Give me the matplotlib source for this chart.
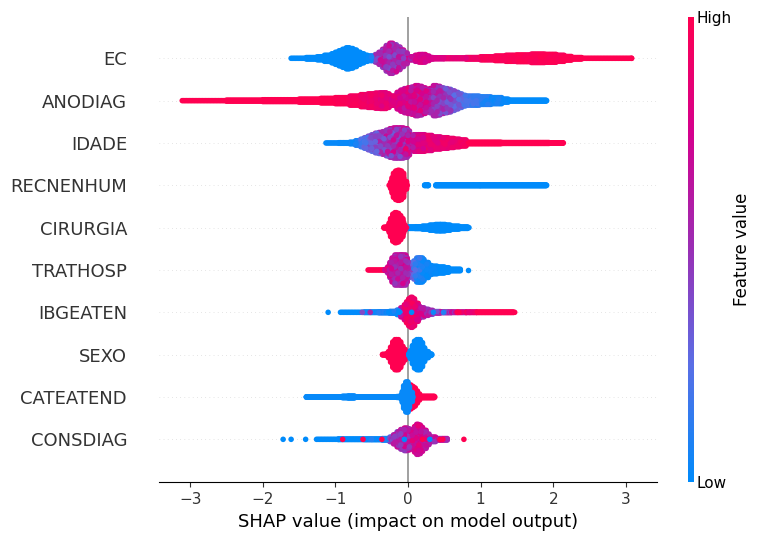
import numpy as np
import matplotlib
matplotlib.use("Agg")
import matplotlib.pyplot as plt
from matplotlib.colors import LinearSegmentedColormap

FEATURES = ["EC", "ANODIAG", "IDADE", "RECNENHUM", "CIRURGIA",
            "TRATHOSP", "IBGEATEN", "SEXO", "CATEATEND", "CONSDIAG"]

# Each swarm is a table of bins: left edge of the bin, dots stacked per side,
# mean feature value, and how far the feature value varies inside the bin.
EC_x = [-1.61, -1.4, -1.25, -1.15, -1.05, -1.0, -.95, -.9, -.85, -.8, -.75, -.7, -.65, -.6, -.55, -.5,
        -.45, -.4, -.35, -.3, -.25, -.2, -.15, -.1, -.05, 0, .05, .1, .15, .2, .25, .3, .35, .5, .8,
        1.0, 1.2, 1.35, 1.5, 1.7, 1.9, 2.05, 2.15, 2.25, 2.4, 3.08]
EC_n = [0, .5, 1, 2, 3, 4, 5, 6, 7, 6.5, 5.5, 4, 3, 2, 1.5, 1.5,
        2.5, 4, 6, 8.5, 10, 9, 7.5, 5.5, 3.5, 1, 1, 2, 2.5, 2.5, 1.5, .5, .3, .2, .5,
        1, 1.5, 2, 2.2, 2.8, 2.6, 2, 1.2, .5, 0, 0]
EC_v = [0, 0, 0, 0, 0, 0, 0, 0, 0, 0, 0, 0, 0, 0, .02, .1,
        .5, .55, .55, .55, .55, .55, .55, .6, .6, .55, .65, .75, .78, .78, .78, .75, .78, .85, .92,
        .95, .97, .98, .98, .98, .98, .98, 1, 1, 1, 1]
EC_s = [0, 0, 0, 0, 0, 0, 0, 0, 0, 0, 0, 0, 0, 0, 0, .05,
        .2, .25, .25, .25, .25, .25, .25, .25, .25, .2, .1, .08, .08, .08, .05, .05, .05, .05, .05,
        .05, .03, .03, .03, .03, .03, .03, 0, 0, 0, 0]

ANODIAG_x = [-3.11, -2.5, -2.0, -1.5, -1.2, -1.0, -.8, -.65, -.55, -.45, -.38, -.3, -.25, -.2, -.15, -.1, -.05, 0,
             .05, .1, .15, .2, .25, .3, .35, .4, .45, .5, .55, .6, .65, .7, .75, .8, .9, 1.0, 1.15, 1.3, 1.4, 1.91]
ANODIAG_n = [0, .3, .6, 1, 1.5, 2, 3, 4, 4.5, 5, 5.2, 4.5, 3, 3, 5.5, 7, 8, 8.5,
             9, 10, 9.5, 8.5, 6.5, 8, 10, 9.5, 8.5, 8, 7.5, 6.5, 5.5, 4.5, 3.5, 3, 3, 2.5, 2, 1, .3, 0]
ANODIAG_v = [1, 1, 1, 1, 1, .98, .95, .92, .9, .88, .85, .85, .82, .8, .78, .76, .75, .74,
             .72, .72, .7, .7, .68, .62, .55, .5, .48, .45, .4, .36, .32, .28, .25, .2, .15, .1, .05, .02, 0, 0]
ANODIAG_s = [0, 0, 0, 0, 0, .02, .03, .05, .05, .05, .08, .08, .08, .1, .12, .15, .18, .2,
             .2, .22, .22, .2, .2, .2, .2, .2, .2, .2, .2, .18, .15, .15, .12, .1, .08, .08, .05, .02, 0, 0]

IDADE_x = [-1.13, -.95, -.8, -.72, -.65, -.6, -.55, -.5, -.45, -.4, -.35, -.3, -.25, -.2, -.15, -.1, -.05, 0,
           .03, .08, .15, .25, .35, .45, .55, .65, .72, .8, 1.3, 1.95, 2.14]
IDADE_n = [0, .2, .5, 1.5, 2.5, 3.5, 4.5, 5.5, 6.5, 7, 7.5, 8.5, 9.5, 10, 10, 10, 9.5, 8,
           5, 5.5, 5.5, 5, 4, 3.5, 3, 2.5, 2, .5, .3, .1, 0]
IDADE_v = [.02, .02, .03, .1, .2, .27, .32, .36, .4, .44, .47, .5, .52, .55, .58, .6, .65, .65,
           .72, .76, .8, .84, .85, .87, .88, .9, .92, 1, 1, 1, 1]
IDADE_s = [0, 0, .03, .08, .1, .12, .15, .18, .2, .22, .25, .28, .3, .3, .3, .32, .35, .35,
           .2, .12, .1, .1, .1, .08, .08, .06, .05, 0, 0, 0, 0]

RECNENHUM_hi_x = [-.26, -.24, -.22, -.2, -.17, -.14, -.11, -.08, -.06, -.04, -.01]
RECNENHUM_hi_n = [0, 2, 5, 8, 9.5, 10, 9.5, 8, 5, 2.5, 0]
RECNENHUM_hi_v = [1] * 11
RECNENHUM_hi_s = [0] * 11
RECNENHUM_lo_x = [.23, .28]
RECNENHUM_lo_n = [.2, .2]
RECNENHUM_lo_v = [0, 0]
RECNENHUM_lo_s = [0, 0]
RECNENHUM_tail_x = [.385, 1.0, 1.91]
RECNENHUM_tail_n = [.3, .3, 0]
RECNENHUM_tail_v = [0, 0, 0]
RECNENHUM_tail_s = [0, 0, 0]

CIRURGIA_lo_x = [0, .1, .2, .3, .38, .45, .52, .6, .72, .84]
CIRURGIA_lo_n = [.5, .6, 1, 1.7, 2.1, 2.1, 1.7, 1, .5, 0]
CIRURGIA_lo_v = [0] * 10
CIRURGIA_lo_s = [0] * 10
CIRURGIA_hi_x = [-.33, -.28, -.26, -.24, -.21, -.18, -.15, -.12, -.09, -.06, -.04, -.02]
CIRURGIA_hi_n = [.3, 1, 3, 6, 9, 10, 9.5, 8, 6, 3.5, 1.5, 0]
CIRURGIA_hi_v = [1] * 12
CIRURGIA_hi_s = [0] * 12

TRATHOSP_x = [-.55, -.32, -.28, -.25, -.22, -.18, -.14, -.1, -.07, -.03, 0, .04, .08, .12, .16, .2, .24, .28, .34, .42, .5, .58, .72]
TRATHOSP_n = [0, .3, 2, 5, 8, 10, 10, 10, 10, 8, 5, 4, 6, 8, 8, 7, 5, 3, 2.5, 2, 1.5, .5, 0]
TRATHOSP_v = [1, .8, .72, .65, .62, .6, .6, .62, .62, .6, .5, .35, .2, .1, .05, .04, .03, .02, .02, 0, 0, 0, 0]
TRATHOSP_s = [0, .15, .2, .2, .2, .2, .2, .22, .22, .2, .2, .2, .15, .1, .08, .05, .05, .02, .02, 0, 0, 0, 0]
TRATHOSP_spot_x = [.82]
TRATHOSP_spot_v = [0]

IBGEATEN_x = [-.93, -.6, -.4, -.25, -.15, -.1, -.05, -.02, .01, .04, .07, .1, .14, .18, .24, .3, .36, .45, .6, .8, .95, 1.47]
IBGEATEN_n = [0, .1, .3, .6, 1.5, 3, 5, 7, 9, 10, 9, 6, 4, 3, 2, 1.3, .5, .2, .1, .1, .1, 0]
IBGEATEN_v = [0, .03, .05, .05, .1, .75, .85, .9, .92, .92, .9, .85, .75, .65, .55, .5, .5, .55, .7, .85, 1, 1]
IBGEATEN_s = [0, .05, .1, .1, .15, .15, .12, .1, .08, .08, .1, .15, .2, .2, .2, .2, .25, .3, .3, .15, 0, 0]
IBGEATEN_spot_x = [-1.1, -.52, -.63, -.4, -.27, -.12, .05, .35, .49, .68, .7, .85]
IBGEATEN_spot_v = [0, .55, .4, .1, 0, 0, 0, .05, .1, 1, 1, .85]

SEXO_hi_x = [-.35, -.3, -.27, -.24, -.21, -.18, -.15, -.12, -.09, -.06, -.03, -.01]
SEXO_hi_n = [.2, .5, 2, 5, 8.5, 10, 10, 8.5, 5.5, 3.5, 2, 0]
SEXO_hi_v = [1] * 12
SEXO_hi_s = [0] * 12
SEXO_lo_x = [.01, .03, .06, .09, .12, .15, .18, .21, .24, .28, .33]
SEXO_lo_n = [.5, 2.5, 6, 9, 10, 10, 8, 4.5, 2, .5, 0]
SEXO_lo_v = [0] * 11
SEXO_lo_s = [0] * 11

CATEATEND_hi_x = [.02, .05, .08, .11, .14, .18, .37]
CATEATEND_hi_n = [8, 7, 6, 4, 2, .5, 0]
CATEATEND_hi_v = [1] * 7
CATEATEND_hi_s = [0] * 7
CATEATEND_lo_x = [-1.40, -.9, -.82, -.72, -.4, -.15, -.1, -.08, -.06, -.03, 0, .02, .04, .07]
CATEATEND_lo_n = [.1, .5, .7, .1, .1, .3, 1, 3.5, 7.5, 10, 10, 7, 3, 0]
CATEATEND_lo_v = [.02] * 14
CATEATEND_lo_s = [0] * 14

CONSDIAG_x = [-1.26, -.96, -.6, -.35, -.25, -.2, -.15, -.1, -.05, 0, .03, .06, .09, .12, .15, .18, .21, .25, .3, .38, .54]
CONSDIAG_n = [0, .1, .2, .5, 1.5, 3, 5, 6.5, 7.5, 7, 5.5, 6.5, 8.5, 10, 9.5, 8, 6, 3.5, 1.5, .5, 0]
CONSDIAG_v = [0, 0, .03, .1, .4, .5, .55, .58, .6, .6, .65, .72, .75, .75, .75, .72, .7, .65, .6, .6, .7]
CONSDIAG_s = [0, 0, .05, .1, .2, .25, .25, .25, .25, .25, .2, .2, .18, .15, .15, .15, .2, .25, .3, .3, .3]
CONSDIAG_spot_x = [-1.72, -1.61, -1.41, -.9, -.62, -.5, -.36, -.05, .2, .3, .44, .48, .77]
CONSDIAG_spot_v = [0, 0, 0, 1, 1, .1, 1, 0, 1, 0, 1, 1, 1]

SWARMS = {
    "EC": [(EC_x, EC_n, EC_v, EC_s)],
    "ANODIAG": [(ANODIAG_x, ANODIAG_n, ANODIAG_v, ANODIAG_s)],
    "IDADE": [(IDADE_x, IDADE_n, IDADE_v, IDADE_s)],
    "RECNENHUM": [(RECNENHUM_hi_x, RECNENHUM_hi_n, RECNENHUM_hi_v, RECNENHUM_hi_s),
                  (RECNENHUM_lo_x, RECNENHUM_lo_n, RECNENHUM_lo_v, RECNENHUM_lo_s),
                  (RECNENHUM_tail_x, RECNENHUM_tail_n, RECNENHUM_tail_v, RECNENHUM_tail_s)],
    "CIRURGIA": [(CIRURGIA_lo_x, CIRURGIA_lo_n, CIRURGIA_lo_v, CIRURGIA_lo_s),
                 (CIRURGIA_hi_x, CIRURGIA_hi_n, CIRURGIA_hi_v, CIRURGIA_hi_s)],
    "TRATHOSP": [(TRATHOSP_x, TRATHOSP_n, TRATHOSP_v, TRATHOSP_s)],
    "IBGEATEN": [(IBGEATEN_x, IBGEATEN_n, IBGEATEN_v, IBGEATEN_s)],
    "SEXO": [(SEXO_hi_x, SEXO_hi_n, SEXO_hi_v, SEXO_hi_s),
             (SEXO_lo_x, SEXO_lo_n, SEXO_lo_v, SEXO_lo_s)],
    "CATEATEND": [(CATEATEND_hi_x, CATEATEND_hi_n, CATEATEND_hi_v, CATEATEND_hi_s),
                  (CATEATEND_lo_x, CATEATEND_lo_n, CATEATEND_lo_v, CATEATEND_lo_s)],
    "CONSDIAG": [(CONSDIAG_x, CONSDIAG_n, CONSDIAG_v, CONSDIAG_s)],
}
SPOTS = {
    "TRATHOSP": (TRATHOSP_spot_x, TRATHOSP_spot_v),
    "IBGEATEN": (IBGEATEN_spot_x, IBGEATEN_spot_v),
    "CONSDIAG": (CONSDIAG_spot_x, CONSDIAG_spot_v),
}

XTICKS = [-3, -2, -1, 0, 1, 2, 3]
COLUMN_STEP = 0.02   # horizontal spacing of dot columns, SHAP units
ROW_STEP = 0.0354    # vertical spacing of stacked dots, row units
GOLD = 0.6180339887
PLASTIC = 0.7548776662

cmap = LinearSegmentedColormap.from_list(
    "red_blue",
    [(0.0, "#008bfb"), (0.25, "#5a6fe6"), (0.5, "#9a2fb5"),
     (0.75, "#d5008e"), (1.0, "#ff0051")])


def swarm_points(bin_x, bin_n, bin_v, bin_s, row):
    """Stack dots in columns across each bin, then order them so that they overlap evenly."""
    xs, ys, cs, ss = [], [], [], []
    for i, (left, n, v, s) in enumerate(zip(bin_x, bin_n, bin_v, bin_s, strict=True)):
        right = bin_x[i + 1] if i + 1 < len(bin_x) else left + COLUMN_STEP / 2
        rows = np.linspace(-n, n, 2 * int(np.ceil(n)) + 1) * ROW_STEP
        for cx in np.arange(left, right, COLUMN_STEP):
            xs.extend([cx] * len(rows))
            ys.extend(row + rows)
            cs.extend([v] * len(rows))
            ss.extend([s] * len(rows))
    xs, ys, cs, ss = map(np.array, (xs, ys, cs, ss))
    idx = np.arange(len(xs))
    cs = np.clip(cs + 0.7 * ss * (2 * ((idx * GOLD) % 1) - 1), 0, 1)
    order = np.argsort((idx * PLASTIC) % 1)
    return xs[order], ys[order], cs[order]


W, H = 760, 540
fig = plt.figure(figsize=(W / 100, H / 100), dpi=100, facecolor="white")
ax = fig.add_axes([159 / W, 1 - 482.3 / H, 498 / W, (482.3 - 16.6) / H])

n_rows = len(FEATURES)
ax.set_xlim(-3.43, 3.43)
ax.set_ylim(-1.015, n_rows - 0.015)
ax.axvline(0, color="#999999", lw=1.3, zorder=-1)

for i, name in enumerate(FEATURES):
    row = n_rows - 1 - i
    ax.axhline(row, color="#cccccc", lw=0.5, dashes=(1, 5), zorder=-1)
    for seg in SWARMS[name]:
        px, py, pc = swarm_points(*seg, row)
        ax.scatter(px, py, c=pc, cmap=cmap, vmin=0, vmax=1, s=16, linewidths=0, zorder=3)
    if name in SPOTS:
        sx, sv = SPOTS[name]
        ax.scatter(sx, [row] * len(sx), c=sv, cmap=cmap, vmin=0, vmax=1, s=16, linewidths=0, zorder=4)

ax.set_yticks(range(n_rows))
ax.set_yticklabels(FEATURES[::-1], fontsize=13, color="#333333")
ax.tick_params(axis="y", length=0, pad=23)
ax.set_xticks(XTICKS)
ax.set_xticklabels(["\u2212" + str(-t) if t < 0 else str(t) for t in XTICKS], fontsize=11, color="#333333")
ax.tick_params(axis="x", color="#333333", labelcolor="#333333")
ax.set_xlabel("SHAP value (impact on model output)", fontsize=13, color="black")
for side in ("top", "left", "right"):
    ax.spines[side].set_visible(False)

# colour bar for the feature value
cax = fig.add_axes([687.5 / W, 1 - 482.3 / H, 6 / W, (482.3 - 16.6) / H])
grad = np.linspace(0, 1, 256).reshape(-1, 1)
cax.imshow(grad, aspect="auto", cmap=cmap, origin="lower", extent=(0, 1, 0, 1))
cax.set_xticks([])
cax.set_yticks([0, 1])
cax.set_yticklabels(["Low", "High"], fontsize=11, color="black")
cax.yaxis.tick_right()
cax.tick_params(axis="y", length=0, pad=2.5)
for spine in cax.spines.values():
    spine.set_visible(False)
cax.set_ylabel("Feature value", fontsize=12, labelpad=1)
cax.yaxis.set_label_position("right")

fig.savefig("out.png", dpi=100)
